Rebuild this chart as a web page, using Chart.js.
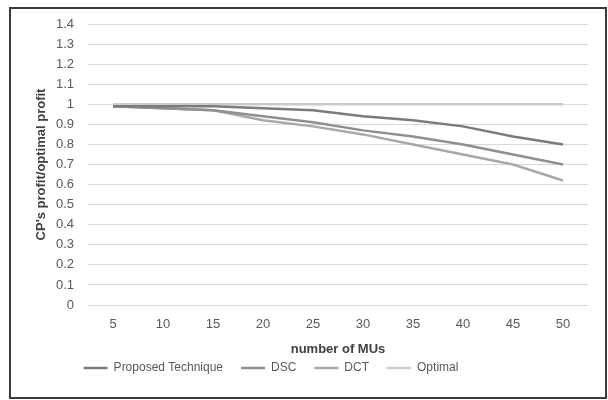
<!DOCTYPE html>
<html>
<head>
<meta charset="utf-8">
<script src="https://cdn.jsdelivr.net/npm/chart.js@4"></script>
<style>
html,body{margin:0;padding:0;background:#fff;}
#wrap{position:relative;width:608px;height:400px;}
#frame{position:absolute;left:9px;top:7px;width:594px;height:388px;border:2px solid #3a3a3a;box-sizing:content-box;pointer-events:none;}
canvas{position:absolute;left:0;top:0;}
</style>
</head>
<body>
<div id="wrap"><canvas id="c" width="608" height="400"></canvas><div id="frame"></div></div>
<script>
const categories = ['5','10','15','20','25','30','35','40','45','50'];
const proposed = [0.99,0.99,0.99,0.98,0.97,0.94,0.92,0.89,0.84,0.80];
const dsc      = [0.99,0.98,0.97,0.94,0.91,0.87,0.84,0.80,0.75,0.70];
const dct      = [0.99,0.98,0.97,0.92,0.89,0.85,0.80,0.75,0.70,0.62];
const optimal  = [1,1,1,1,1,1,1,1,1,1];
const yTicks = [0,0.1,0.2,0.3,0.4,0.5,0.6,0.7,0.8,0.9,1,1.1,1.2,1.3,1.4];

const FONT = "'Liberation Sans', Arial, sans-serif";
const mk = (label, data, color) => ({label, data, borderColor: color, backgroundColor: color,
  borderWidth: 2.5, pointRadius: 0, pointHoverRadius: 0, tension: 0, fill: false});

const legendShift = {
  id: 'legendShift',
  afterLayout(chart) {
    const l = chart.legend; if (!l) return;
    l.left -= 28; l.right -= 28;
    l.top -= 13; l.bottom -= 13;
  }
};

new Chart(document.getElementById('c'), {
  type: 'line',
  data: {
    labels: categories,
    datasets: [
      mk('Proposed Technique', proposed, '#7b7b7b'),
      mk('DSC', dsc, '#8f8f8f'),
      mk('DCT', dct, '#a8a8a8'),
      mk('Optimal', optimal, '#cbcbcb')
    ]
  },
  options: {
    responsive: false,
    animation: false,
    devicePixelRatio: 1,
    layout: {padding: {left: 10, right: 20, top: 24, bottom: 3}},
    plugins: {
      legend: {
        position: 'bottom',
        labels: {
          usePointStyle: true, pointStyle: 'line', pointStyleWidth: 24,
          boxHeight: 10,
          color: '#595959', font: {family: FONT, size: 12}, padding: 18
        }
      },
      tooltip: {enabled: false}
    },
    scales: {
      x: {
        offset: true,
        grid: {display: false, drawTicks: false},
        border: {display: false},
        ticks: {color: '#595959', font: {family: FONT, size: 13}, padding: 12, maxRotation: 0},
        title: {display: true, text: 'number of MUs', color: '#404040',
          font: {family: FONT, size: 13, weight: 'bold'}, padding: {top: 4, bottom: 0}},
        afterFit(s) { s.height = 52; }
      },
      y: {
        min: 0, max: 1.4,
        afterBuildTicks(s) { s.ticks = yTicks.map(v => ({value: v})); },
        grid: {color: '#d9d9d9', lineWidth: 1, drawTicks: false},
        border: {display: false},
        ticks: {color: '#595959', font: {family: FONT, size: 13}, padding: 14,
          callback: v => String(+Number(v).toFixed(1))},
        title: {display: true, text: "CP's profit/optimal profit", color: '#404040',
          font: {family: FONT, size: 13, weight: 'bold'}, padding: {top: 24, bottom: 0}},
        afterFit(s) { s.width = 78; }
      }
    }
  },
  plugins: [legendShift]
});
</script>
</body>
</html>
